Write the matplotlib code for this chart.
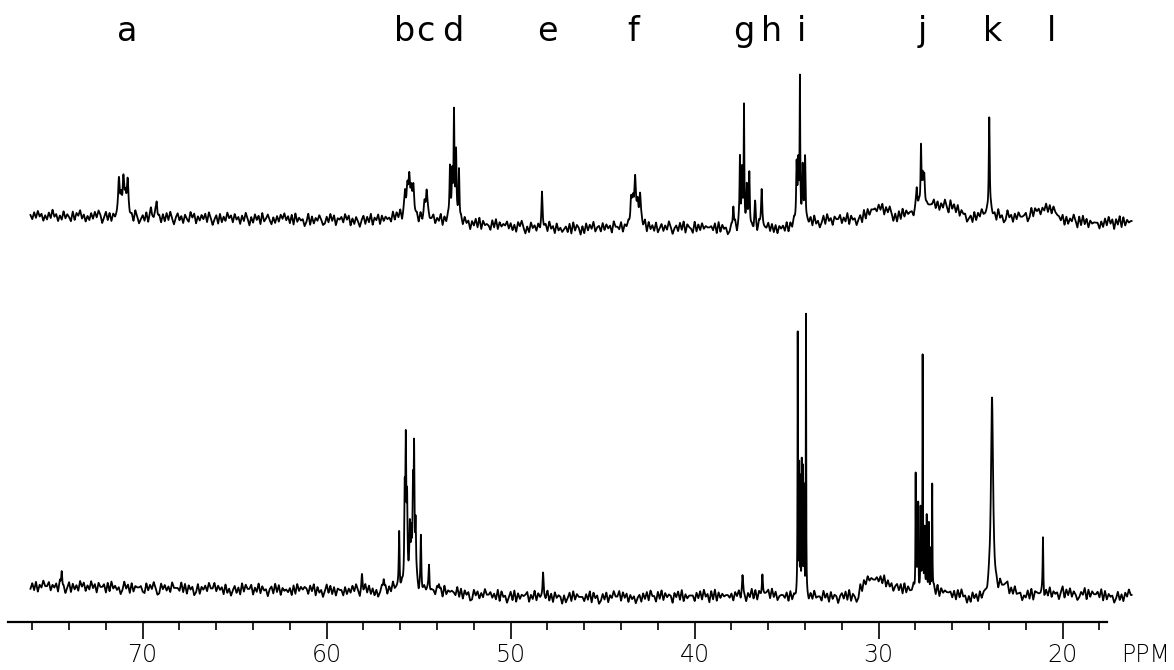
import numpy as np
import matplotlib
matplotlib.use("Agg")
import matplotlib.pyplot as plt
from matplotlib.ticker import MultipleLocator, FixedLocator

# ---------------- data ----------------
# peak labels above the spectra
label_text = ["a", "b", "c", "d", "e", "f", "g", "h", "i", "j", "k", "l"]
label_ppm = [70.85, 55.74, 54.66, 53.14, 48.03, 43.35, 37.32, 35.80, 34.22, 27.65, 23.79, 20.58]

# top spectrum: lines (ppm, height, half-width in ppm)
top_ppm = [71.29, 71.17, 71.05, 70.93, 70.82, 69.55, 69.24,
           55.74, 55.62, 55.51, 55.40, 55.29, 54.68, 54.57,
           53.30, 53.18, 53.08, 52.97, 52.81, 48.30,
           43.46, 43.35, 43.24, 43.10, 42.97,
           37.90, 37.54, 37.43, 37.32, 37.17, 37.03, 36.72, 36.36,
           34.46, 34.37, 34.28, 34.13, 34.00,
           27.93, 27.70, 27.61, 27.52, 23.99]
top_height = [30, 18, 35, 18, 31, 8, 14,
              24, 22, 38, 20, 30, 14, 27,
              52, 42, 100, 68, 55, 30,
              26, 18, 42, 20, 32,
              22, 68, 55, 118, 40, 55, 24, 40,
              58, 55, 140, 52, 70,
              22, 62, 24, 32, 100]
top_width = [0.05, 0.05, 0.05, 0.05, 0.05, 0.04, 0.04,
             0.05, 0.05, 0.05, 0.05, 0.05, 0.05, 0.05,
             0.03, 0.03, 0.025, 0.03, 0.03, 0.03,
             0.05, 0.05, 0.05, 0.05, 0.05,
             0.03, 0.025, 0.03, 0.02, 0.03, 0.03, 0.04, 0.04,
             0.03, 0.03, 0.02, 0.03, 0.03,
             0.04, 0.025, 0.04, 0.04, 0.03]

# bottom spectrum: lines (ppm, height, half-width in ppm)
bot_ppm = [74.40, 58.08, 56.90,
           56.06, 55.76, 55.70, 55.63, 55.48, 55.40, 55.31, 55.25, 55.17,
           54.88, 54.44, 53.90, 48.24, 37.40, 36.32,
           34.40, 34.32, 34.25, 34.18, 34.11, 34.04, 33.95,
           27.99, 27.92, 27.85, 27.72, 27.61, 27.50, 27.39, 27.27, 27.18, 27.09,
           23.84, 21.07]
bot_height = [18, 14, 10,
              56, 88, 122, 80, 50, 45, 90, 125, 60,
              50, 27, 8, 24, 14, 20,
              255, 125, 115, 135, 120, 105, 282,
              120, 60, 85, 78, 238, 55, 75, 68, 45, 108,
              194, 55]
bot_width = [0.03, 0.03, 0.03,
             0.025, 0.03, 0.025, 0.03, 0.03, 0.03, 0.03, 0.025, 0.03,
             0.025, 0.03, 0.03, 0.03, 0.03, 0.03,
             0.012, 0.012, 0.012, 0.012, 0.012, 0.012, 0.012,
             0.014, 0.014, 0.014, 0.014, 0.014, 0.014, 0.014, 0.014, 0.014, 0.014,
             0.07, 0.02]

# baseline levels (ppm, level)
top_base_ppm = [76, 73, 70, 66, 62, 58, 56, 52, 50, 47, 44, 41, 38, 36, 35, 33, 31,
                30, 29, 28, 27, 26, 25, 24, 23, 22, 21, 20, 18, 16.3]
top_base_lvl = [406, 405, 404, 403, 402, 401, 404, 398, 395, 393, 394, 394, 393, 392, 394,
                401, 403, 415, 405, 410, 417, 415, 404, 407, 405, 404, 416, 402, 398, 400]
bot_base_ppm = [76, 72, 68, 64, 60, 57, 56.5, 54, 52, 50, 46, 42, 38, 36, 34, 32, 31.2,
                30.6, 29.6, 28.8, 28.4, 26.7, 25, 24.5, 23.2, 22, 20, 17, 16.3]
bot_base_lvl = [35, 34, 33, 32, 31, 31, 33, 30, 27, 25, 24, 25, 26, 27, 24, 25, 26,
                42, 40, 34, 30, 30, 24, 22, 34, 26, 29, 25, 26]

# baseline noise, hand-typed digits (0..9), one every 0.1 ppm from 76.1 ppm
top_noise = ("5273846152739461528364182759361527384960"
             "4827163594273846195036281754946172839405"
             "8361742958163748295047182639572846173950"
             "6284719358416273859472819364503917264851"
             "2739481657395816274058273916481736452938"
             "4917283645718263945826491738569351728460"
             "6382917454183927465837261859405184627395"
             "7294618352462819375061837492562837461955"
             "3816472958527491836281472639504628391754"
             "1927384655638192745027491836547362819455"
             "5938271646281739465571648293503829461755"
             "8263917450471928365526381749506182937455"
             "1749382655582716394093728164503618274955"
             "7284619350294617385568139274504172839655"
             "3817264950829371645551628394707391826455")
bot_noise = ("3728164955826471935048173629582639471855"
             "7182946350394718265562183749501847362955"
             "5392817460281647395593746182504726193855"
             "8163927450572938164536182947576284917350"
             "4938271655172638495074938261503857162945"
             "6271839450918374625528471936565392817460"
             "1847263955736291845048291736568163927455"
             "3927184650614829375552739184602738164955"
             "9284716350461738295518392746507482916355"
             "5173829460829173645536174829506392817455"
             "6829371455371826495081627394552947183650"
             "5738291640192837465574839162504627193855"
             "9163728450382917465562718394505184729365"
             "2738461955791628345043829176558173926450"
             "5917382640264918375573918264503826174955")

tick_major = [70, 60, 50, 40, 30, 20]

# ---------------- build spectra ----------------
x = np.arange(76.1, 16.25, -0.003)


def spectrum(pk_ppm, pk_h, pk_w, b_ppm, b_lvl, noise):
    y = np.zeros_like(x)
    for c, h, w in zip(pk_ppm, pk_h, pk_w):
        y += h / (1.0 + ((x - c) / w) ** 2)
    bp = np.array(b_ppm)[::-1]
    bl = np.array(b_lvl)[::-1]
    y += np.interp(x, bp, bl)
    nv = (np.array([int(ch) for ch in noise]) - 4.5) * 1.4
    npos = 76.1 - 0.1 * np.arange(len(nv))
    y += np.interp(x, npos[::-1], nv[::-1])
    return y


y_top = spectrum(top_ppm, top_height, top_width, top_base_ppm, top_base_lvl, top_noise)
y_bot = spectrum(bot_ppm, bot_height, bot_width, bot_base_ppm, bot_base_lvl, bot_noise)

# ---------------- draw ----------------
W, H = 1174, 670
fig = plt.figure(figsize=(W / 100, H / 100), dpi=100)
axis_y = 621.7
ax = fig.add_axes([8 / W, (H - axis_y) / H, (1107 - 8) / W, axis_y / H])
ax.set_xlim(77.32, 17.59)
ax.set_ylim(0, axis_y)

ax.plot(x, y_top, color="black", lw=1.3, clip_on=False)
ax.plot(x, y_bot, color="black", lw=1.3, clip_on=False)

for t, p in zip(label_text, label_ppm):
    ax.text(p, axis_y - 41, t, ha="center", va="baseline", fontsize=24,
            family="DejaVu Sans", color="black")

for s in ["top", "left", "right"]:
    ax.spines[s].set_visible(False)
ax.spines["bottom"].set_linewidth(1.6)
ax.yaxis.set_visible(False)
ax.xaxis.set_major_locator(FixedLocator(tick_major))
ax.xaxis.set_minor_locator(MultipleLocator(2))
ax.set_xticklabels([str(v) for v in tick_major])
ax.tick_params(axis="x", which="major", direction="out", length=12.5, width=1.2,
               pad=3, labelsize=17, colors="black")
ax.tick_params(axis="x", which="minor", direction="out", length=5.5, width=1.2)
for lab in ax.get_xticklabels():
    lab.set_fontweight("light")

fig.text(1121 / W, 1 - 643 / H, "PPM", ha="left", va="top", fontsize=17,
         fontweight="light", color="black")

fig.savefig("out.png", dpi=100, facecolor="white")
